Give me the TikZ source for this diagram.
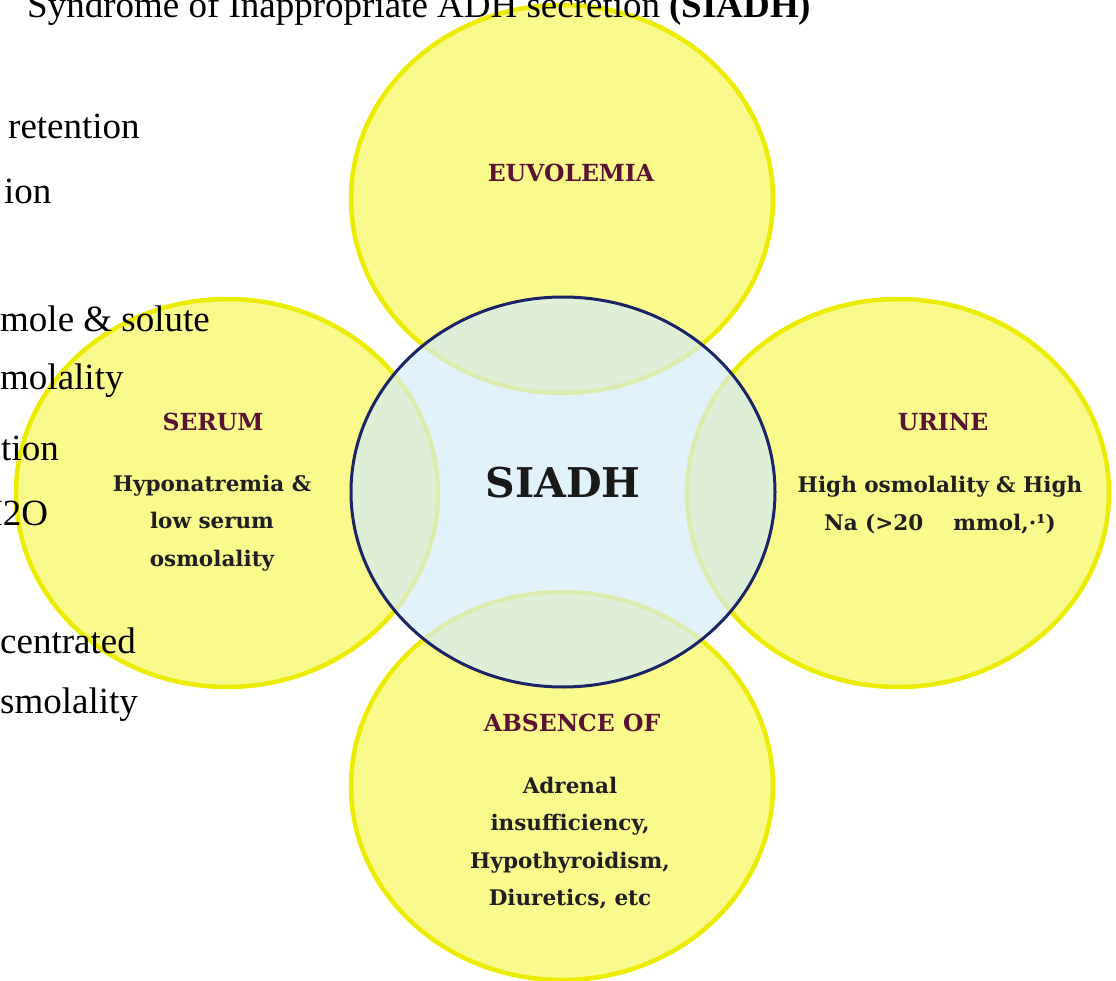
\documentclass[tikz,border=0pt]{standalone}
\usepackage{fontspec}
\setmainfont{Liberation Serif}
\newfontfamily\cam{DejaVu Serif}
\usetikzlibrary{shapes.geometric}
\definecolor{yfill}{HTML}{F9F98C}
\definecolor{yline}{HTML}{ECEC00}
\definecolor{cfill}{rgb}{0.837,0.927,0.971}
\definecolor{navy}{HTML}{1B2466}
\definecolor{maroon}{HTML}{5A1234}
\begin{document}
\begin{tikzpicture}[x=1pt,y=-1pt,
  petal/.style={ellipse, minimum width=422pt, minimum height=388pt, inner sep=0pt, fill=yfill, draw=yline, line width=4.5pt},
  hub/.style={ellipse, minimum width=424pt, minimum height=390pt, inner sep=0pt, fill=cfill, fill opacity=0.7, draw=navy, draw opacity=1, line width=3pt},
  head/.style={font=\cam\bfseries\fontsize{23.5}{28}\selectfont, text=maroon, inner sep=0pt},
  body/.style={font=\cam\bfseries\fontsize{21.5}{37.5}\selectfont, align=center, text=black!88, inner sep=0pt},
  side/.style={font=\fontsize{37}{44}\selectfont, anchor=base west, inner sep=0pt}]
\useasboundingbox (0,0) rectangle (1116,981);
% petals
\node[petal] (top) at (562,199) {};
\node[petal] (bottom) at (562,786) {};
\node[petal] (left) at (227,493) {};
\node[petal] (right) at (898,493) {};
% hub
\node[hub] (hub) at (563,492) {};
% labels
\node[font=\cam\bfseries\fontsize{41}{48}\selectfont, text=black!90, inner sep=0pt] (siadh) at (563,483) {SIADH};
\node[head] (euv) at (571,173) {EUVOLEMIA};
\node[head] (serum) at (213,422) {SERUM};
\node[body] (serumtxt) at (212,523) {Hyponatremia \&\\low serum\\osmolality};
\node[head] (urine) at (943,422) {URINE};
\node[body] (urinetxt) at (940,505) {High osmolality \& High\\Na (>20\hspace{30pt}mmol,·¹)};
\node[head] (absence) at (572,723) {ABSENCE OF};
\node[body] (absencetxt) at (570,843) {Adrenal\\insufficiency,\\Hypothyroidism,\\Diuretics, etc};
% title and side text
\node[side] (title) at (27,18) {Syndrome of Inappropriate ADH secretion \textbf{(SIADH)}};
\node[side] (s1) at (8,139) {retention};
\node[side] (s2) at (4,204) {ion};
\node[side] (s3) at (0,332) {mole \& solute};
\node[side] (s4) at (0,389) {molality};
\node[side] (s5) at (1,460) {tion};
\node[side] (s6) at (-24,525) {H2O};
\node[side] (s7) at (0,653) {centrated};
\node[side] (s8) at (0,713) {smolality};
\end{tikzpicture}
\end{document}
